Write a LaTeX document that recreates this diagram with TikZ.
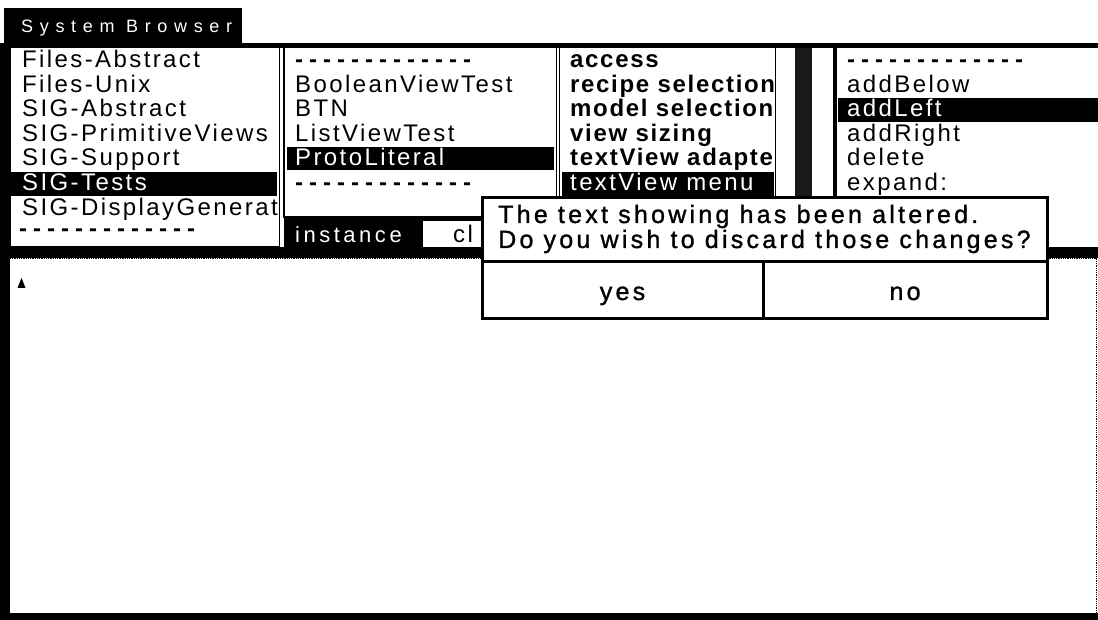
\documentclass[tikz,border=0pt]{standalone}
\usepackage{fontspec}
\setmainfont{Liberation Sans}
\newfontfamily\uifont{Liberation Sans}[LetterSpace=10]
\newfontfamily\bfuifont{Liberation Sans Bold}[LetterSpace=7]
\newfontfamily\dlgfont{Liberation Sans}[LetterSpace=13,FakeBold=1.2]
\newfontfamily\dashfont{Liberation Sans Bold}[LetterSpace=25]
\newfontfamily\titlefont{Liberation Sans}[LetterSpace=37]
\newfontfamily\tabfont{Liberation Sans}[LetterSpace=16]
\begin{document}
\begin{tikzpicture}[x=1pt,y=-1pt,
  item/.style={font=\uifont\fontsize{24}{24}\selectfont, anchor=base west, inner sep=0pt},
  hitem/.style={item, text=white},
  bitem/.style={font=\bfuifont\fontsize{24}{24}\selectfont, anchor=base west, inner sep=0pt},
  hbitem/.style={bitem, text=white},
  dashrow/.style={font=\dashfont\fontsize{24}{24}\selectfont, anchor=base west, inner sep=0pt, text height=9pt, text depth=0pt},
  dlgtext/.style={font=\dlgfont\fontsize{25}{25}\selectfont, anchor=base west, inner sep=0pt},
  btntext/.style={font=\dlgfont\fontsize{25}{25}\selectfont, anchor=base, inner sep=0pt},
  panebox/.style={draw=black, line width=1.5pt, fill=white},
  hilite/.style={fill=black},
]
\useasboundingbox (0,0) rectangle (1098,620);
\clip (0,0) rectangle (1098,620);
\fill[white] (0,0) rectangle (1098,620);

% title tab
\fill[black] (4,8) rectangle (242,44);
\node[font=\titlefont\fontsize{18}{18}\selectfont, text=white, anchor=base west, inner sep=0pt] (title) at (21,33) {System Browser};

% window frame
\fill[black] (0,43.5) rectangle (1098,48);
\fill[black] (0,43.5) rectangle (10,620);
\fill[black] (0,247) rectangle (1098,258);
\fill[black] (0,613) rectangle (1098,620);

% ---------- pane 1: categories
\begin{scope}
\draw[panebox] (10.5,47) rectangle (279.5,247);
\clip (11,48) rectangle (278.5,246);
\fill[hilite] (11,172) rectangle (277,196);
\node[item] (c1) at (22,67.5) {Files-Abstract};
\node[item] (c2) at (22,92.1) {Files-Unix};
\node[item] (c3) at (22,116.7) {SIG-Abstract};
\node[item] (c4) at (22,141.3) {SIG-PrimitiveViews};
\node[item] (c5) at (22,165.9) {SIG-Support};
\node[hitem] (c6) at (22,190.5) {SIG-Tests};
\node[item] (c7) at (22,215.1) {SIG-DisplayGenerat};
\node[dashrow] (c8) at (19,237) {-------------};
\end{scope}

% ---------- pane 2: classes
\begin{scope}
\draw[panebox] (284,47) rectangle (556.5,217);
\clip (285,48) rectangle (555.5,216);
\fill[hilite] (287,147.5) rectangle (554,170.5);
\node[dashrow] (k1) at (295,67.5) {-------------};
\node[item] (k2) at (295,92.1) {BooleanViewTest};
\node[item] (k3) at (295,116.7) {BTN};
\node[item] (k4) at (295,141.3) {ListViewTest};
\node[hitem] (k5) at (295,165.9) {ProtoLiteral};
\node[dashrow] (k6) at (295,190.5) {-------------};
\end{scope}
\fill[black] (283.5,217) rectangle (557,247);
\fill[white] (423,221) rectangle (520,247);
\node[font=\tabfont\fontsize{22}{22}\selectfont, text=white, anchor=base west, inner sep=0pt] (inst) at (295,243) {instance};
\node[font=\uifont\fontsize{24}{24}\selectfont, anchor=base west, inner sep=0pt] (cls) at (453,243) {cl};

% ---------- pane 3: protocols
\begin{scope}
\draw[panebox] (559.5,47) rectangle (775.5,247);
\clip (560.5,48) rectangle (774.5,246);
\fill[hilite] (562,172) rectangle (774,197);
\node[bitem] (p1) at (570,67.5) {access};
\node[bitem] (p2) at (570,92.1) {recipe selection};
\node[bitem] (p3) at (570,116.7) {model selection};
\node[bitem] (p4) at (570,141.3) {view sizing};
\node[bitem] (p5) at (570,165.9) {textView adapte};
\node[hitem] (p6) at (570,190.5) {textView menu};
\end{scope}

% scroll strips between pane 3 and pane 4
\fill[black!90] (795,48) rectangle (812,247);
\fill[black] (833,48) rectangle (836.5,247);

% ---------- pane 4: selectors
\begin{scope}
\fill[white] (836.5,48) rectangle (1098,247);
\clip (836.5,48) rectangle (1098,246);
\fill[hilite] (838,98.5) rectangle (1098,122.5);
\node[dashrow] (s1) at (847,67.5) {-------------};
\node[item] (s2) at (847,92.1) {addBelow};
\node[hitem] (s3) at (847,116.7) {addLeft};
\node[item] (s4) at (847,141.3) {addRight};
\node[item] (s5) at (847,165.9) {delete};
\node[item] (s6) at (847,190.5) {expand:};
\end{scope}

% ---------- text area
\draw[black, densely dotted, line width=0.8pt, fill=white] (9.5,258) rectangle (1096,613);
\fill[black] (17.5,288) -- (21.5,278) -- (25.5,288) -- cycle;

% ---------- confirmation dialog
\draw[black, line width=3pt, fill=white] (482,197.5) rectangle (1047,319);
\draw[black, line width=3pt] (482,262) -- (1047,262);
\draw[black, line width=3pt] (763,262) -- (763,319);
\node[dlgtext] (msg1) at (498,223) {The text showing has been altered.};
\node[dlgtext] (msg2) at (498,248) {Do you wish to discard those changes?};
\node[btntext] (yes) at (622.5,300) {yes};
\node[btntext] (no) at (905,300) {no};
\end{tikzpicture}
\end{document}
